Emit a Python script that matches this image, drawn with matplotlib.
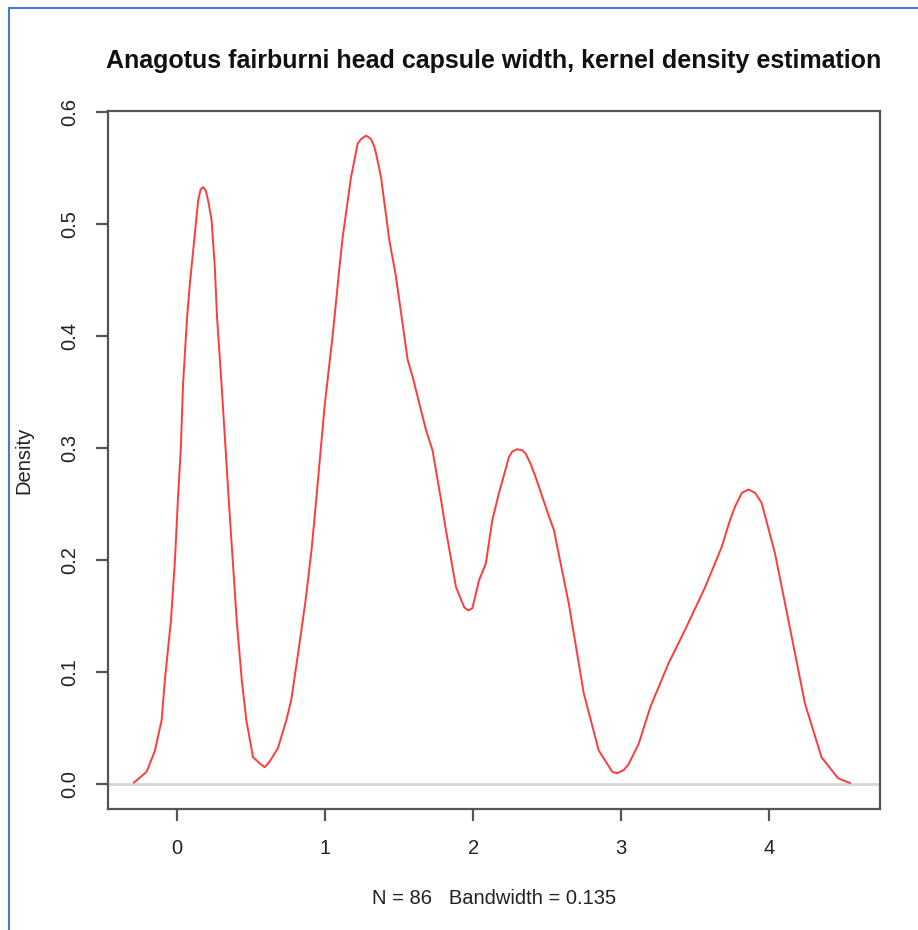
import matplotlib
matplotlib.use("Agg")
import matplotlib.pyplot as plt
from matplotlib.lines import Line2D

# Kernel density estimate of head capsule width (N = 86, bw = 0.135)
width_mm = [
    -0.290, -0.283, -0.204, -0.148, -0.103, -0.081, -0.040, -0.013, 0.007, 0.027,
    0.042, 0.069, 0.088, 0.133, 0.144, 0.160, 0.177, 0.195, 0.211, 0.234,
    0.256, 0.271, 0.301, 0.328, 0.350, 0.377, 0.404, 0.438, 0.469, 0.514,
    0.559, 0.593, 0.626, 0.682, 0.739, 0.772, 0.822, 0.869, 0.909, 0.941,
    0.997, 1.053, 1.098, 1.120, 1.176, 1.221, 1.244, 1.277, 1.311, 1.333,
    1.345, 1.378, 1.434, 1.479, 1.558, 1.591, 1.682, 1.726, 1.783, 1.816,
    1.884, 1.939, 1.968, 1.995, 2.040, 2.086, 2.130, 2.175, 2.242, 2.265,
    2.298, 2.332, 2.355, 2.388, 2.422, 2.512, 2.545, 2.646, 2.747, 2.848,
    2.939, 2.972, 3.017, 3.051, 3.118, 3.197, 3.320, 3.432, 3.567, 3.679,
    3.735, 3.769, 3.814, 3.859, 3.904, 3.948, 4.038, 4.150, 4.240, 4.352,
    4.465, 4.543,
]
density = [
    0.0015, 0.002, 0.011, 0.030, 0.057, 0.093, 0.146, 0.200, 0.254, 0.301,
    0.358, 0.417, 0.447, 0.507, 0.521, 0.531, 0.533, 0.530, 0.521, 0.504,
    0.462, 0.417, 0.358, 0.301, 0.254, 0.200, 0.146, 0.093, 0.057, 0.024,
    0.0185, 0.015, 0.020, 0.032, 0.057, 0.075, 0.120, 0.164, 0.209, 0.254,
    0.337, 0.402, 0.462, 0.489, 0.542, 0.572, 0.576, 0.579, 0.576, 0.569,
    0.563, 0.542, 0.486, 0.453, 0.379, 0.364, 0.316, 0.298, 0.254, 0.227,
    0.176, 0.158, 0.155, 0.157, 0.182, 0.197, 0.236, 0.260, 0.292, 0.297,
    0.299, 0.298, 0.295, 0.286, 0.274, 0.239, 0.227, 0.161, 0.081, 0.030,
    0.011, 0.0096, 0.0125, 0.018, 0.036, 0.069, 0.108, 0.138, 0.176, 0.212,
    0.236, 0.248, 0.260, 0.263, 0.260, 0.251, 0.206, 0.132, 0.072, 0.024,
    0.005, 0.001,
]
x_ticks = [0, 1, 2, 3, 4]
y_ticks = [0.0, 0.1, 0.2, 0.3, 0.4, 0.5, 0.6]
y_tick_labels = ["0.0", "0.1", "0.2", "0.3", "0.4", "0.5", "0.6"]

title = "Anagotus fairburni head capsule width, kernel density estimation"
x_label = "N = 86   Bandwidth = 0.135"
y_label = "Density"

plt.rcParams["font.family"] = ["Liberation Sans", "DejaVu Sans"]

W, H = 918, 930
fig = plt.figure(figsize=(W / 100, H / 100), dpi=100)
fig.patch.set_facecolor("white")

# axes box in pixels: left 108, right 880, top 111, bottom 809
ax = fig.add_axes([108 / W, (H - 809) / H, (880 - 108) / W, (809 - 111) / H])
ax.set_xlim(-0.465, 4.747)
ax.set_ylim(-0.0223, 0.601)

ax.axhline(0, color="#d6d6d6", lw=2.0, zorder=1)
ax.plot(width_mm, density, color="#ff3b3b", lw=1.4, zorder=2)

box_color = "#555555"
for s in ax.spines.values():
    s.set_color(box_color)
    s.set_linewidth(1.6)

ax.set_xticks(x_ticks)
ax.set_xticklabels([str(t) for t in x_ticks])
ax.set_yticks(y_ticks)
ax.set_yticklabels(y_tick_labels, rotation=90, va="center")
ax.tick_params(axis="both", direction="out", length=8.5, width=1.6,
               color=box_color, labelsize=14.5, labelcolor="#222222")
ax.tick_params(axis="x", pad=13)
ax.tick_params(axis="y", pad=12)

fig.text(494 / W, 1 - 61 / H, title, ha="center", va="center",
         fontsize=18, fontweight="bold", color="#111111")
fig.text(494 / W, 1 - 898 / H, x_label, ha="center", va="center",
         fontsize=14.5, color="#222222")
fig.text(24 / W, 1 - 460 / H, y_label, ha="center", va="center",
         rotation=90, fontsize=14.5, color="#222222")

# frame lines along the top and left edges
border = "#4a78cf"
fig.add_artist(Line2D([9 / W, 1.0], [1 - 8 / H, 1 - 8 / H], color=border,
                      lw=1.5, transform=fig.transFigure))
fig.add_artist(Line2D([9 / W, 9 / W], [0.0, 1 - 8 / H], color=border,
                      lw=1.5, transform=fig.transFigure))

fig.savefig("out.png", dpi=100, facecolor="white")
